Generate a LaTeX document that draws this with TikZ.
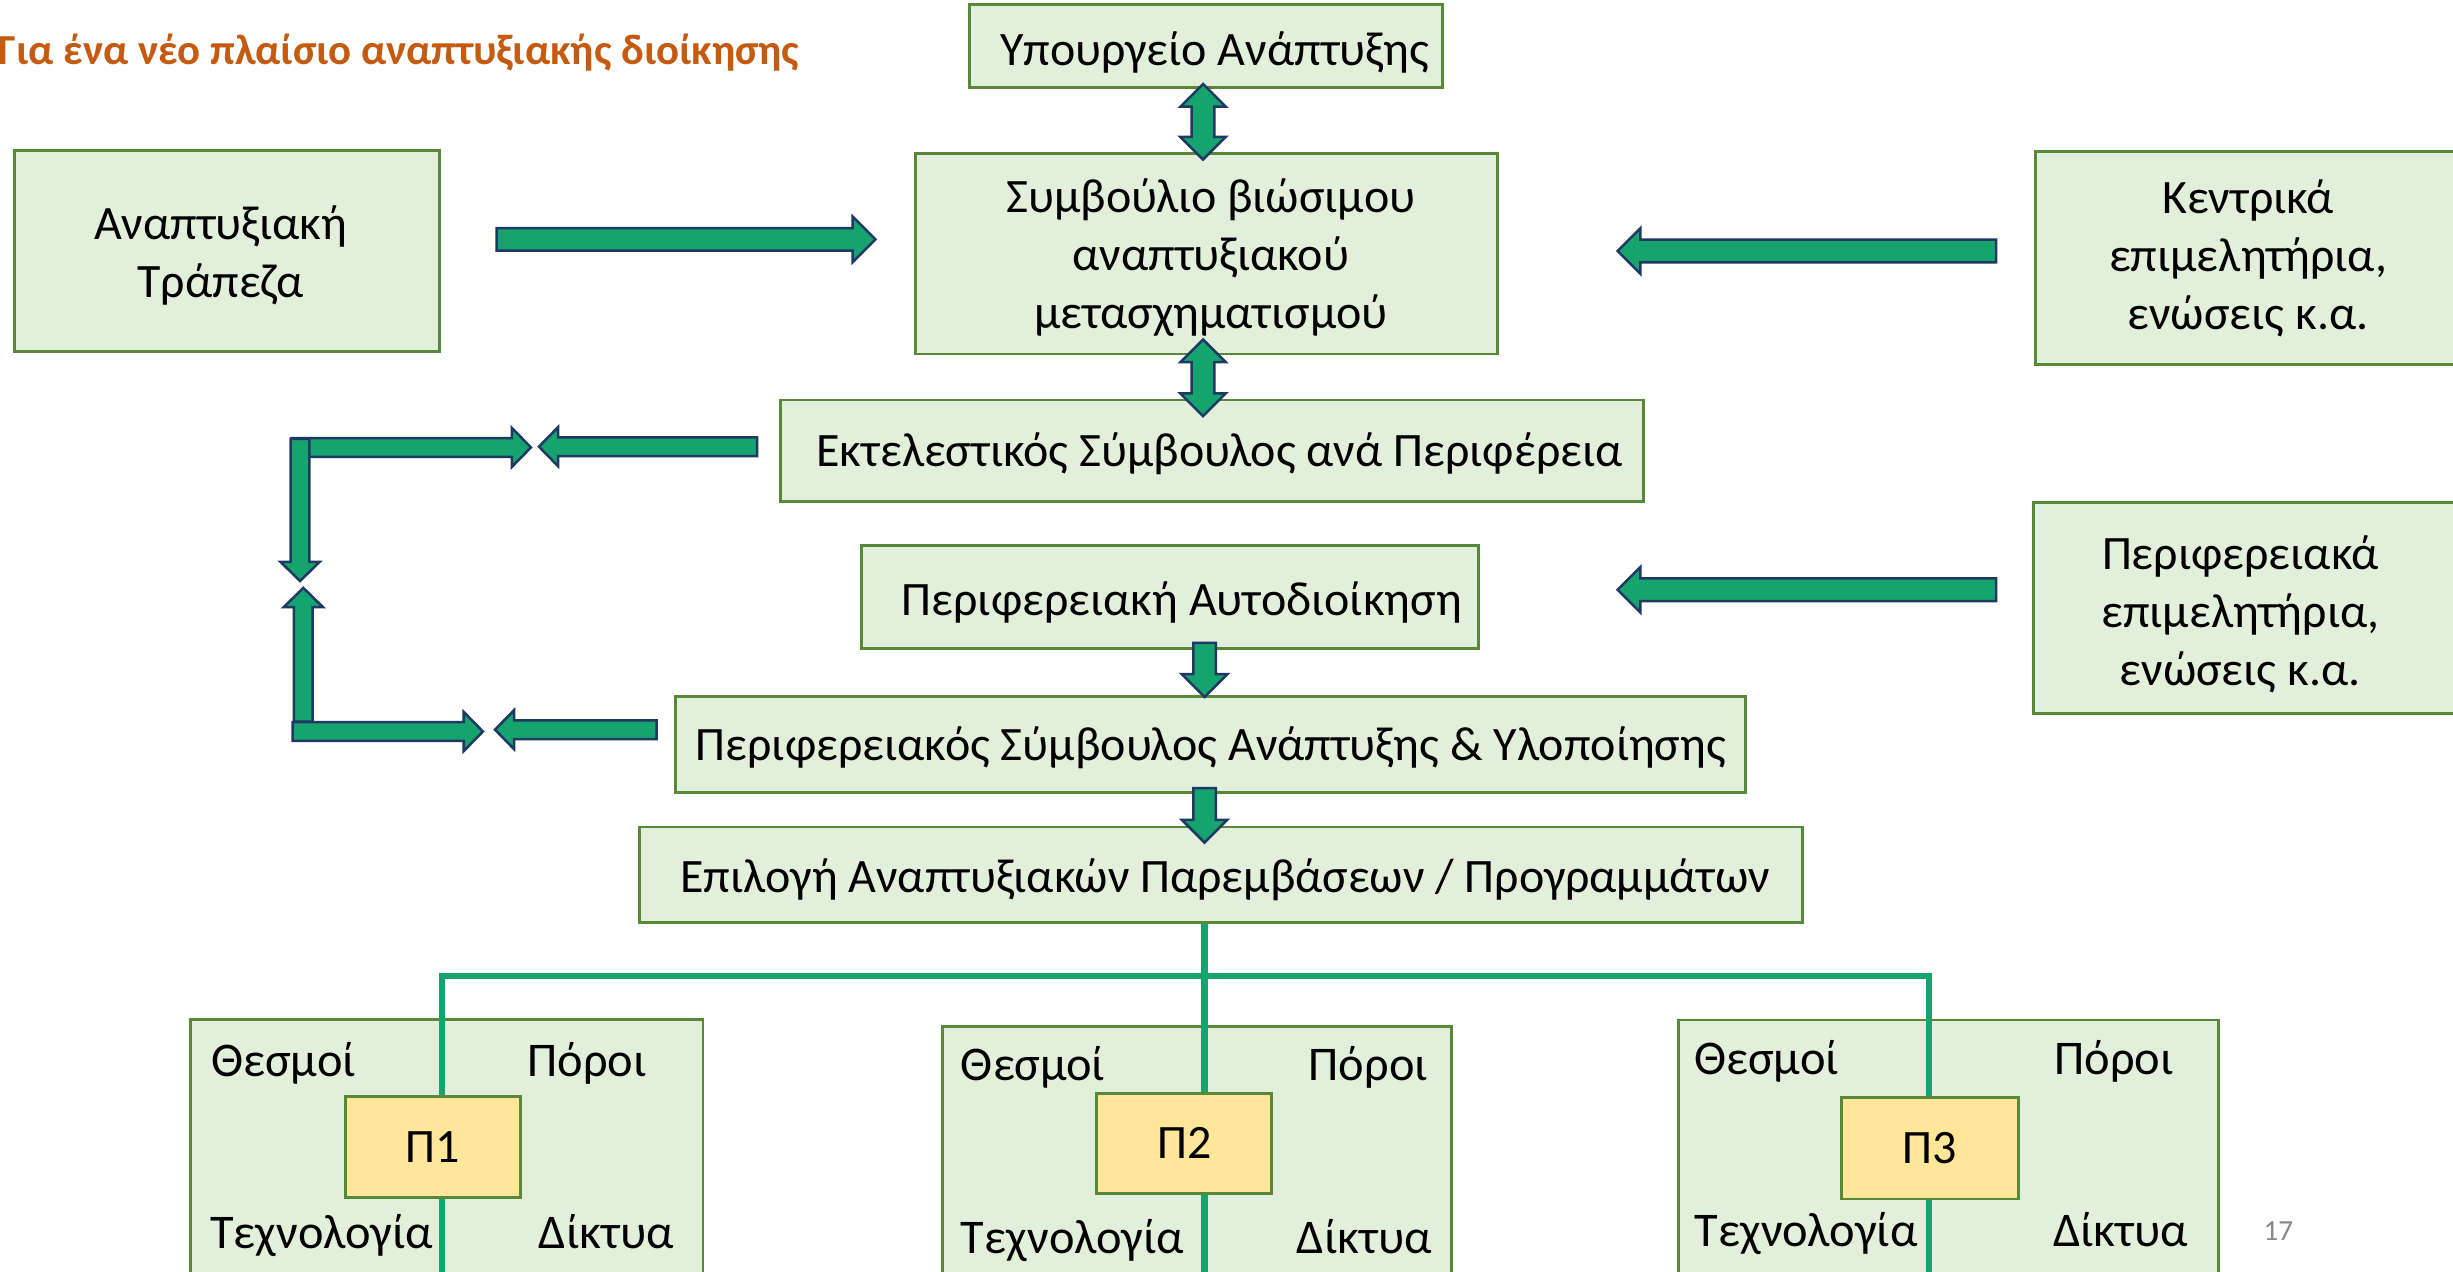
\documentclass[tikz,border=0pt]{standalone}
\usepackage{fontspec}
\setmainfont{Carlito}
\usetikzlibrary{calc}

\definecolor{boxfill}{RGB}{226,239,218}
\definecolor{boxline}{RGB}{88,137,56}
\definecolor{pfill}{RGB}{255,230,153}
\definecolor{arrowfill}{RGB}{22,164,110}
\definecolor{arrowline}{RGB}{31,56,100}
\definecolor{titleorange}{RGB}{197,90,17}
\definecolor{pagegray}{RGB}{137,137,137}

\newcommand{\boxfont}{\fontsize{23}{27.75}\selectfont}
% arrow sizes (big ones by default)
\def\shaftw{5.44pt}\def\headw{10.9pt}\def\headlen{10.9pt}

% block arrow: tail, tip
\newcommand{\fatarrow}[2]{%
  \path ($(#2)!\headlen!(#1)$) coordinate (fa-h);
  \draw[blockarrow] ($(#1)!\shaftw!90:(#2)$) -- ($(fa-h)!\shaftw!90:(#2)$) -- ($(fa-h)!\headw!90:(#2)$) -- (#2)
    -- ($(fa-h)!\headw!-90:(#2)$) -- ($(fa-h)!\shaftw!-90:(#2)$) -- ($(#1)!\shaftw!-90:(#2)$) -- cycle;
}
% block arrow with two heads
\newcommand{\twinarrow}[2]{%
  \path ($(#1)!\headlen!(#2)$) coordinate (ta-a) ($(#2)!\headlen!(#1)$) coordinate (ta-b);
  \draw[blockarrow] (#1) -- ($(ta-a)!\headw!90:(#2)$) -- ($(ta-a)!\shaftw!90:(#2)$) -- ($(ta-b)!\shaftw!90:(#2)$)
    -- ($(ta-b)!\headw!90:(#2)$) -- (#2) -- ($(ta-b)!\headw!-90:(#2)$) -- ($(ta-b)!\shaftw!-90:(#2)$)
    -- ($(ta-a)!\shaftw!-90:(#2)$) -- ($(ta-a)!\headw!-90:(#2)$) -- cycle;
}

\begin{document}
\begin{tikzpicture}[x=0.75pt,y=0.75pt,yscale=-1,xscale=1,
  greenbox/.style={draw=boxline, fill=boxfill, line width=1.4pt, inner sep=0pt},
  boxtext/.style={inner sep=0pt, align=center, font=\boxfont},
  pbox/.style={draw=boxline, fill=pfill, line width=1.4pt, inner sep=0pt, font=\boxfont},
  facet/.style={inner sep=0pt, font=\fontsize{23.2}{27}\selectfont},
  treeline/.style={draw=arrowfill, line width=3.2pt},
  blockarrow/.style={draw=arrowline, fill=arrowfill, line width=1.2pt, line join=miter},
  title/.style={inner sep=0pt, text=titleorange, font=\fontsize{20.5}{24}\selectfont\bfseries},
  pagenum/.style={inner sep=0pt, text=pagegray, font=\fontsize{14}{16}\selectfont}]
\useasboundingbox (0,0) rectangle (1568,813);
\clip (0,0) rectangle (1568,813);

% Title
\node[title, anchor=base west] (title) at (-1,41) {Για ένα νέο πλαίσιο αναπτυξιακής διοίκησης};

% Upper boxes
\node[greenbox, minimum width=226.5pt, minimum height=39.75pt,
  label={[boxtext, xshift=4.1pt, yshift=-3pt]center:Υπουργείο Ανάπτυξης}] (ministry) at (771,29.5) {};
\node[greenbox, minimum width=279pt, minimum height=96pt,
  label={[boxtext, xshift=2.25pt, yshift=-1.9pt]center:Συμβούλιο βιώσιμου\\αναπτυξιακού\\μετασχηματισμού}] (council) at (771,162.3) {};
\node[greenbox, minimum width=203.6pt, minimum height=96.4pt,
  label={[boxtext, xshift=-3pt, yshift=-2.25pt]center:Αναπτυξιακή\\Τράπεζα}] (bank) at (145,160.5) {};
\node[greenbox, minimum width=204pt, minimum height=102pt,
  label={[boxtext]center:Κεντρικά\\επιμελητήρια,\\ενώσεις κ.α.}] (chambers) at (1437,165) {};
\node[greenbox, minimum width=413.8pt, minimum height=48.75pt,
  label={[boxtext, xshift=3.7pt, yshift=-1.5pt]center:Εκτελεστικός Σύμβουλος ανά Περιφέρεια}] (executive) at (774.6,288.2) {};
\node[greenbox, minimum width=295.7pt, minimum height=49.5pt,
  label={[boxtext, xshift=5.6pt, yshift=-2.25pt]center:Περιφερειακή Αυτοδιοίκηση}] (selfgov) at (748,381.8) {};
\node[greenbox, minimum width=204pt, minimum height=101.25pt,
  label={[boxtext, xshift=-3pt, yshift=-3pt]center:Περιφερειακά\\επιμελητήρια,\\ενώσεις κ.α.}] (regchambers) at (1436,388.5) {};
\node[greenbox, minimum width=513pt, minimum height=46.3pt,
  label={[boxtext, yshift=-1.5pt]center:Περιφερειακός Σύμβουλος Ανάπτυξης \& Υλοποίησης}] (regcouncil) at (774,475.85) {};
\node[greenbox, minimum width=557.25pt, minimum height=46pt,
  label={[boxtext, xshift=1.9pt, yshift=-2.25pt]center:Επιλογή Αναπτυξιακών Παρεμβάσεων / Προγραμμάτων}] (choice) at (780.5,559.3) {};

% Big arrows
\coordinate (min-a) at (769,53.7);
\coordinate (min-b) at (769,102);
\coordinate (cou-a) at (769,217);
\coordinate (cou-b) at (769,266);
\coordinate (bank-out) at (317.4,153);
\coordinate (bank-in) at (559.6,153);
\coordinate (ch-out) at (1276,160.5);
\coordinate (ch-in) at (1034,160.5);
\coordinate (rch-out) at (1276,377);
\coordinate (rch-in) at (1034,377);
\coordinate (sg-out) at (770,411);
\coordinate (sg-in) at (770,445.5);
\coordinate (rc-out) at (770,503.8);
\coordinate (rc-in) at (770,538.6);
\twinarrow{min-a}{min-b}
\twinarrow{cou-a}{cou-b}
\fatarrow{bank-out}{bank-in}
\fatarrow{ch-out}{ch-in}
\fatarrow{rch-out}{rch-in}
\fatarrow{sg-out}{sg-in}
\fatarrow{rc-out}{rc-in}

% Loop on the left (smaller arrows)
\def\shaftw{4.5pt}\def\headw{9.4pt}\def\headlen{9.2pt}
\coordinate (ltop-a) at (186.4,286);
\coordinate (ltop-b) at (339.4,286);
\coordinate (ldown-a) at (191.8,280.6);
\coordinate (ldown-b) at (191.8,371.4);
\coordinate (ex-out) at (483.9,285.5);
\coordinate (ex-in) at (344.5,285.5);
\coordinate (lup-a) at (193.9,461.2);
\coordinate (lup-b) at (193.9,375.8);
\coordinate (lbot-a) at (187,467.6);
\coordinate (lbot-b) at (308.7,467.6);
\coordinate (rg-out) at (419.7,466.4);
\coordinate (rg-in) at (316.4,466.4);
\fatarrow{ltop-a}{ltop-b}
\fatarrow{ldown-a}{ldown-b}
\fatarrow{ex-out}{ex-in}
\fatarrow{lup-a}{lup-b}
\fatarrow{lbot-a}{lbot-b}
\fatarrow{rg-out}{rg-in}

% Bottom boxes
\node[greenbox, minimum width=245.9pt, minimum height=134.6pt] (prog1) at (285.45,741.25) {};
\node[greenbox, minimum width=244.1pt, minimum height=131.25pt] (prog2) at (765.25,743.5) {};
\node[greenbox, minimum width=258.75pt, minimum height=134.25pt] (prog3) at (1245.5,741.5) {};

% Tree
\coordinate (hub) at (770,623.8);
\coordinate (left) at (282.5,623.8);
\coordinate (right) at (1233,623.8);
\coordinate (left-end) at (282.5,830);
\coordinate (mid-end) at (770,830);
\coordinate (right-end) at (1233,830);
\draw[treeline] (hub |- choice.south) -- (mid-end);
\draw[treeline] (left-end) -- (left) -- (right) -- (right-end);

\node[pbox, minimum width=84.3pt, minimum height=48.4pt] (p1) at (276.8,733.25) {Π1};
\node[pbox, minimum width=84pt, minimum height=48.2pt] (p2) at (757,730.85) {Π2};
\node[pbox, minimum width=84.75pt, minimum height=48.6pt] (p3) at (1233.5,734) {Π3};

% Texts in bottom boxes
\node[facet, anchor=base west] (inst1) at (135,688) {Θεσμοί};
\node[facet, anchor=base east] (res1) at (413.6,688) {Πόροι};
\node[facet, anchor=base west] (tech1) at (134,798) {Τεχνολογία};
\node[facet, anchor=base east] (net1) at (431,798) {Δίκτυα};
\node[facet, anchor=base west] (inst2) at (614,690.7) {Θεσμοί};
\node[facet, anchor=base east] (res2) at (913,690.7) {Πόροι};
\node[facet, anchor=base west] (tech2) at (614,801.5) {Τεχνολογία};
\node[facet, anchor=base east] (net2) at (915.6,801.5) {Δίκτυα};
\node[facet, anchor=base west] (inst3) at (1083,687) {Θεσμοί};
\node[facet, anchor=base east] (res3) at (1389.7,687) {Πόροι};
\node[facet, anchor=base west] (tech3) at (1083,796.8) {Τεχνολογία};
\node[facet, anchor=base east] (net3) at (1399,796.8) {Δίκτυα};

% Page number
\node[pagenum, anchor=base west] (pgnum) at (1446.6,793) {17};

\end{tikzpicture}
\end{document}
